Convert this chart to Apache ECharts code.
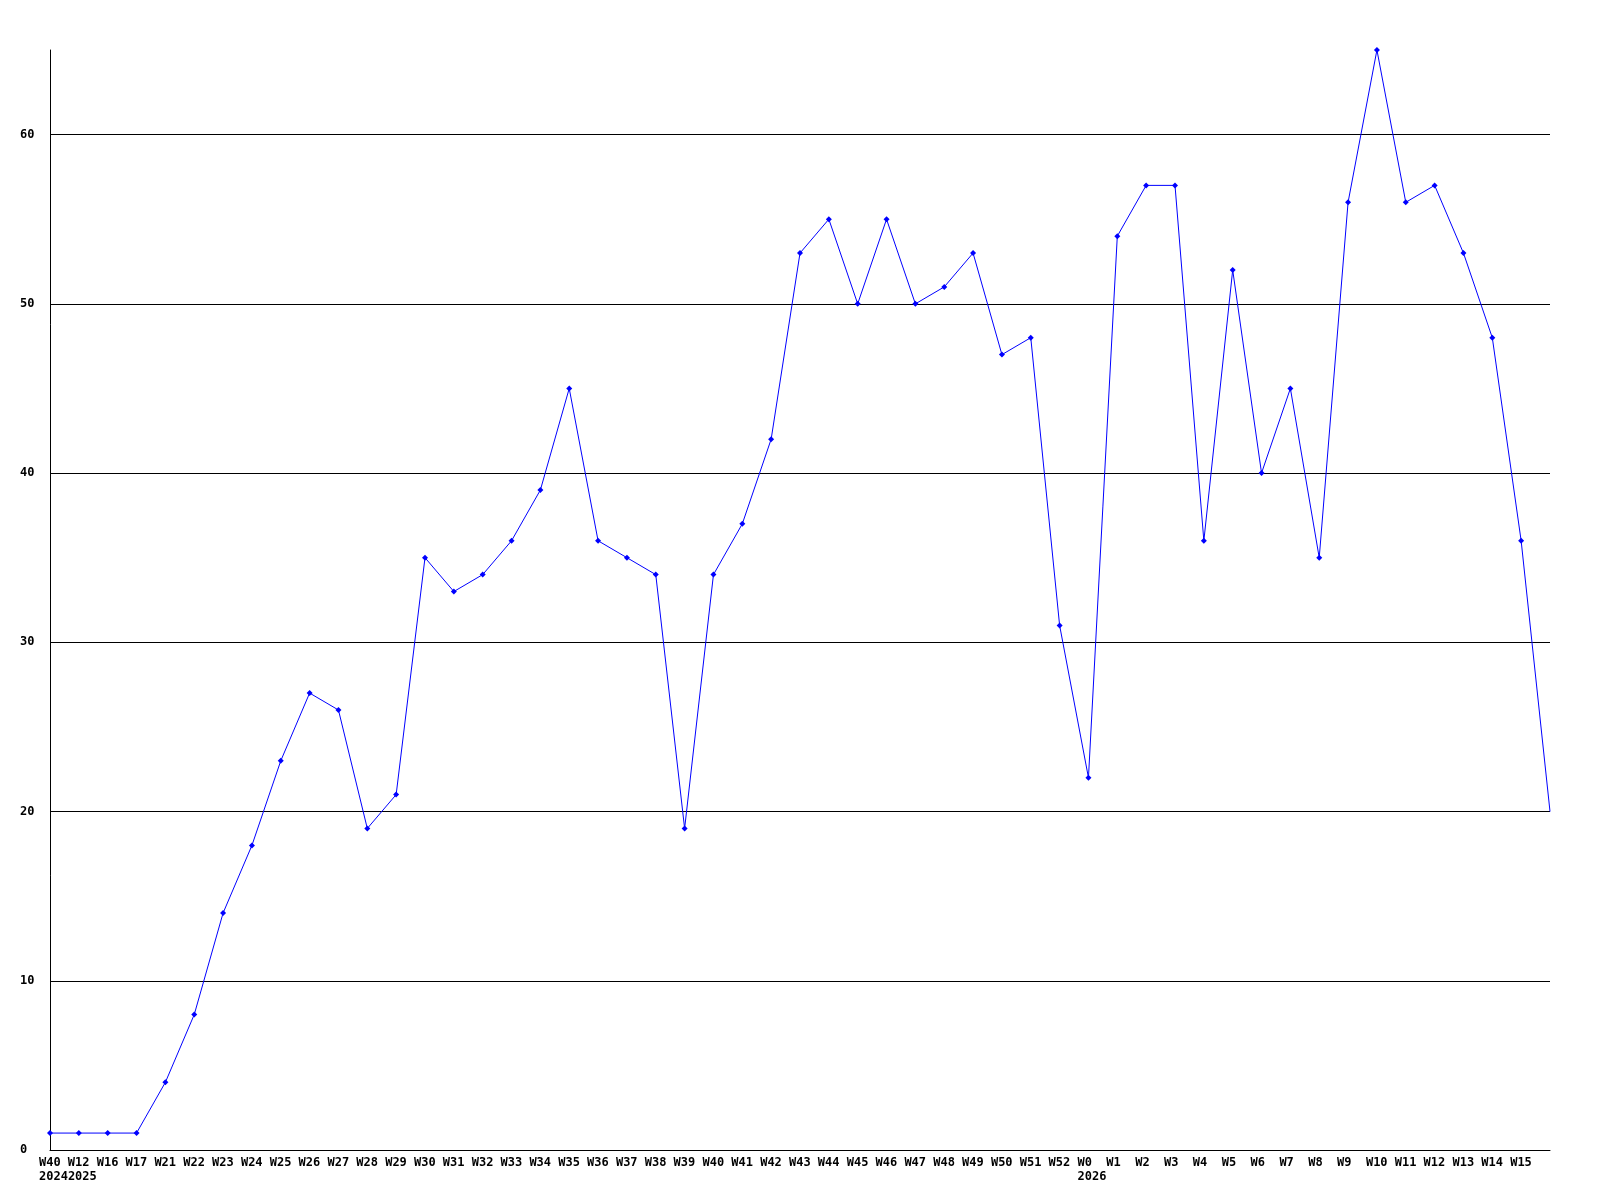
<!DOCTYPE html>
<html>
<head>
<meta charset="utf-8">
<script src="https://cdn.jsdelivr.net/npm/echarts@6/dist/echarts.min.js"></script>
<style>
    html, body { margin: 0; padding: 0; background: #fff; }
    #chart { width: 1600px; height: 1200px; }
</style>
</head>
<body>
<div id="chart"></div>
<script>
    // week labels (last point has no label)
    var weeks = ['W40', 'W12', 'W16', 'W17', 'W21', 'W22', 'W23', 'W24', 'W25', 'W26',
        'W27', 'W28', 'W29', 'W30', 'W31', 'W32', 'W33', 'W34', 'W35', 'W36',
        'W37', 'W38', 'W39', 'W40', 'W41', 'W42', 'W43', 'W44', 'W45', 'W46',
        'W47', 'W48', 'W49', 'W50', 'W51', 'W52', 'W0', 'W1', 'W2', 'W3',
        'W4', 'W5', 'W6', 'W7', 'W8', 'W9', 'W10', 'W11', 'W12', 'W13',
        'W14', 'W15', ''];
    // year line under some weeks
    var years = { 0: '20242025', 36: '2026' };
    var counts = [1, 1, 1, 1, 4, 8, 14, 18, 23, 27,
        26, 19, 21, 35, 33, 34, 36, 39, 45, 36,
        35, 34, 19, 34, 37, 42, 53, 55, 50, 55,
        50, 51, 53, 47, 48, 31, 22, 54, 57, 57,
        36, 52, 40, 45, 35, 56, 65, 56, 57, 53,
        48, 36, 20];

    var font = 'DejaVu Sans Mono';

    // 最后一个点没有标记
    var seriesData = counts.map(function (v, i) {
        if (i === counts.length - 1) {
            return { value: v, symbol: 'none' };
        }
        return v;
    });

    var option = {
        animation: false,
        backgroundColor: '#fff',
        grid: {
            left: 50,
            right: 50,
            top: 50,
            bottom: 50
        },
        xAxis: {
            type: 'category',
            boundaryGap: false,
            data: weeks,
            axisTick: { show: false },
            axisLine: {
                lineStyle: { color: '#000', width: 1 }
            },
            splitLine: { show: false },
            axisLabel: {
                interval: 0,
                align: 'left',
                margin: 6,
                padding: [0, 0, 0, -11],
                lineHeight: 14,
                color: '#000',
                fontFamily: font,
                fontWeight: 'bold',
                fontSize: 12,
                formatter: function (val, idx) {
                    return years[idx] ? val + '\n' + years[idx] : val;
                }
            }
        },
        yAxis: {
            type: 'value',
            min: 0,
            max: 65,
            interval: 10,
            axisTick: { show: false },
            axisLine: {
                show: true,
                lineStyle: { color: '#000', width: 1 }
            },
            splitLine: {
                show: true,
                showMaxLine: false,
                lineStyle: { color: '#000', width: 1 }
            },
            axisLabel: {
                showMaxLabel: false,
                align: 'left',
                margin: 30,
                color: '#000',
                fontFamily: font,
                fontWeight: 'bold',
                fontSize: 12
            }
        },
        series: [{
            type: 'line',
            data: seriesData,
            symbol: 'diamond',
            symbolSize: 6,
            showSymbol: true,
            itemStyle: { color: '#0000ff' },
            lineStyle: { color: '#0000ff', width: 1 }
        }]
    };

    var chart = echarts.init(document.getElementById('chart'));
    chart.setOption(option);
</script>
</body>
</html>
